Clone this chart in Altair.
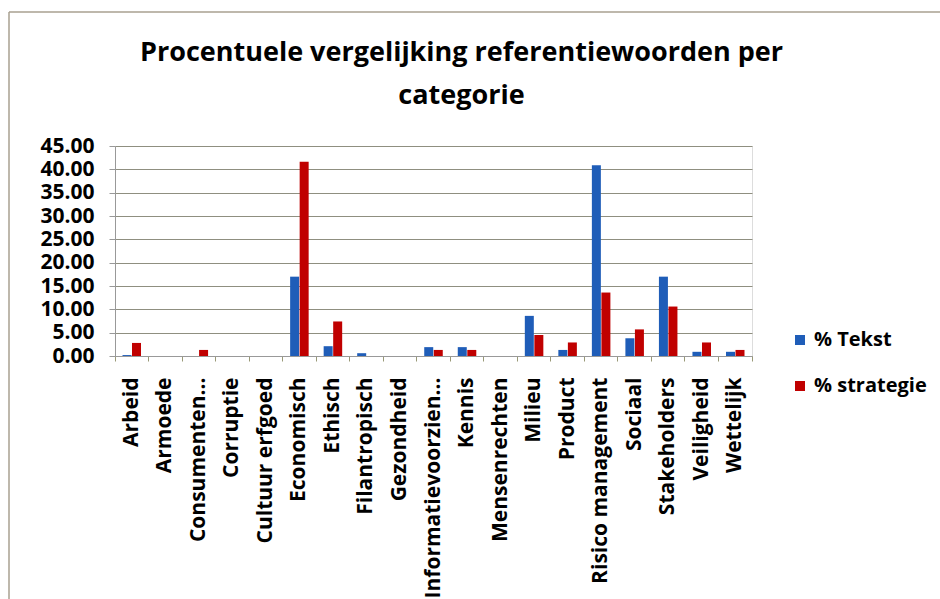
import altair as alt
import pandas as pd

categories = ["Arbeid", "Armoede", "Consumenten…", "Corruptie", "Cultuur erfgoed",
              "Economisch", "Ethisch", "Filantropisch", "Gezondheid",
              "Informatievoorzien…", "Kennis", "Mensenrechten", "Milieu", "Product",
              "Risico management", "Sociaal", "Stakeholders", "Veiligheid", "Wettelijk"]
tekst = [0.2, 0.0, 0.0, 0.0, 0.0, 17.0, 2.1, 0.6, 0.0, 1.9, 1.9, 0.0, 8.6, 1.3,
         40.9, 3.8, 17.0, 0.9, 0.9]
strategie = [2.8, 0.0, 1.3, 0.0, 0.0, 41.6, 7.4, 0.0, 0.0, 1.3, 1.3, 0.0, 4.5, 2.9,
             13.6, 5.7, 10.6, 2.9, 1.3]
series = ["% Tekst", "% strategie"]
colors = ["#1F5DB8", "#C00000"]
y_ticks = [0, 5, 10, 15, 20, 25, 30, 35, 40, 45]

rows = []
for c, t, s in zip(categories, tekst, strategie):
    rows.append({"cat": c, "serie": series[0], "val": t})
    rows.append({"cat": c, "serie": series[1], "val": s})
df = pd.DataFrame(rows)

FONT = "Open Sans"
W, H = 637, 210

bars = alt.Chart(df).mark_bar(size=9).encode(
    x=alt.X("cat:N", sort=categories,
            scale=alt.Scale(paddingInner=0, paddingOuter=0),
            axis=alt.Axis(title=None, labelAngle=-90, labelAlign="right",
                          labelBaseline="middle", labelPadding=16,
                          labelFont=FONT, labelFontSize=21, labelFontWeight="bold",
                          labelColor="black", bandPosition=1, tickExtra=True,
                          tickSize=5, tickColor="#999977", domainColor="#999999",
                          labelLimit=300)),
    xOffset=alt.XOffset("serie:N", sort=series,
                        scale=alt.Scale(paddingOuter=0.76, paddingInner=0)),
    y=alt.Y("val:Q", scale=alt.Scale(domain=[0, 45], nice=False),
            axis=alt.Axis(title=None, values=y_ticks, format=".2f",
                          labelFont=FONT, labelFontSize=21, labelFontWeight="bold",
                          labelColor="black", tickSize=6, tickColor="#999999",
                          domainColor="#999999", gridColor="#8f8f80",
                          labelPadding=15)),
    color=alt.Color("serie:N", sort=series,
                    scale=alt.Scale(domain=series, range=colors),
                    legend=alt.Legend(title=None, orient="none", legendX=675,
                                      legendY=184, symbolType="square",
                                      symbolSize=100, labelFont=FONT,
                                      labelFontSize=20, labelFontWeight="bold",
                                      labelColor="black", rowPadding=26,
                                      labelOffset=4, symbolStrokeWidth=0)),
)

frame_top = alt.Chart(pd.DataFrame({"k": [0]})).mark_rule(color="#a8a090", strokeWidth=1.5).encode(
    x=alt.value(-106), x2=alt.value(900), y=alt.value(-134))
frame_left = alt.Chart(pd.DataFrame({"k": [0]})).mark_rule(color="#a8a090", strokeWidth=1.5).encode(
    x=alt.value(-106), y=alt.value(-134), y2=alt.value(600))

chart = alt.layer(frame_top, frame_left, bars).properties(
    width=W, height=H,
    title=alt.TitleParams(["Procentuele vergelijking referentiewoorden per", "categorie"],
                          font=FONT, fontSize=27, fontWeight="bold", color="black",
                          anchor="middle", frame="group", dx=28, offset=-99,
                          lineHeight=43),
    autosize=alt.AutoSizeParams(type="none"),
    padding={"left": 115, "top": 146, "right": 188, "bottom": 243},
).configure_view(stroke=None).configure(background="white")

chart.save("out.html", embed_options={"renderer": "svg", "actions": False})
